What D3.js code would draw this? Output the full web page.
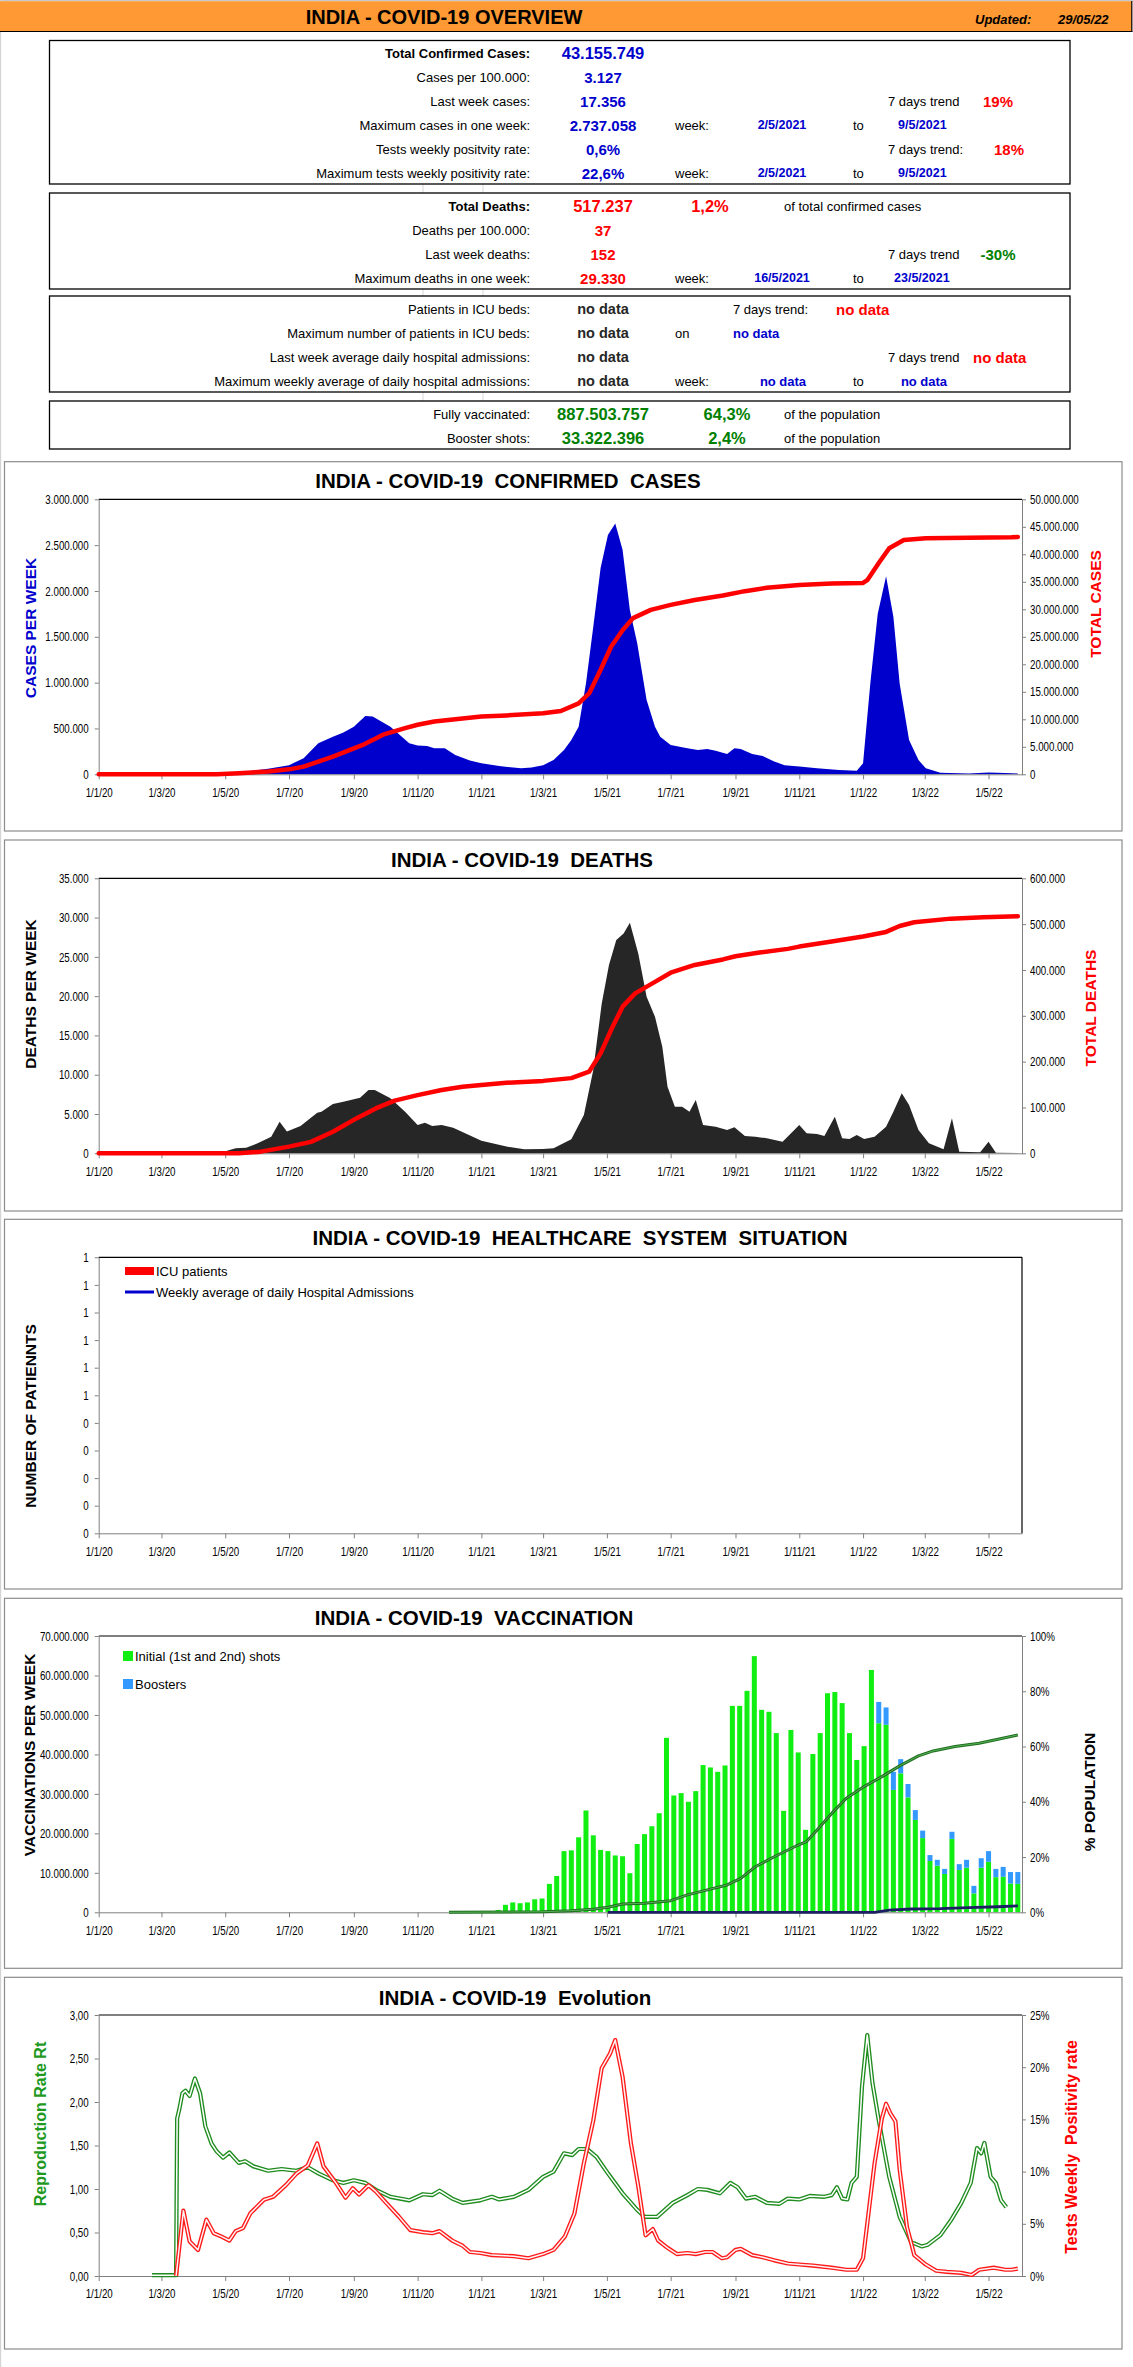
<!DOCTYPE html>
<html><head><meta charset="utf-8">
<script src="https://cdn.jsdelivr.net/npm/d3@7"></script>
<style>
body{margin:0;background:#fff;}
svg{display:block;}
</style></head><body>
<svg id="c" width="1133" height="2367"></svg>
<script>
// ---------------- DATA ----------------
const xTickDates = ["2020-01-01","2020-03-01","2020-05-01","2020-07-01","2020-09-01","2020-11-01","2021-01-01","2021-03-01","2021-05-01","2021-07-01","2021-09-01","2021-11-01","2022-01-01","2022-03-01","2022-05-01"];

const casesTicksL = [0,500000,1000000,1500000,2000000,2500000,3000000];
const casesTicksR = [0,5e6,10e6,15e6,20e6,25e6,30e6,35e6,40e6,45e6,50e6];
const deathsTicksL = [0,5000,10000,15000,20000,25000,30000,35000];
const deathsTicksR = [0,100000,200000,300000,400000,500000,600000];
const icuTicks = [0,0.1,0.2,0.3,0.4,0.5,0.6,0.7,0.8,0.9,1];
const vaxTicksL = [0,1e7,2e7,3e7,4e7,5e7,6e7,7e7];
const vaxTicksR = [0,20,40,60,80,100];
const rtTicks = [0,0.5,1,1.5,2,2.5,3];
const posTicks = [0,5,10,15,20,25];

const casesWeekly = [["2020-04-16",0],["2020-05-02",10000],["2020-05-21",30000],["2020-06-11",60000],["2020-07-01",100000],["2020-07-15",175000],["2020-07-29",340000],["2020-08-12",410000],["2020-08-22",455000],["2020-09-01",520000],["2020-09-12",636000],["2020-09-19",630000],["2020-10-06",520000],["2020-10-24",340000],["2020-11-01",313000],["2020-11-10",310000],["2020-11-17",285000],["2020-11-27",285000],["2020-12-07",210000],["2020-12-21",150000],["2021-01-01",120000],["2021-01-18",90000],["2021-02-08",65000],["2021-02-18",73000],["2021-03-01",100000],["2021-03-11",155000],["2021-03-21",265000],["2021-03-28",375000],["2021-04-04",520000],["2021-04-11",990000],["2021-04-18",1610000],["2021-04-25",2250000],["2021-05-02",2610000],["2021-05-09",2737000],["2021-05-16",2450000],["2021-05-23",1790000],["2021-05-30",1430000],["2021-06-08",810000],["2021-06-16",520000],["2021-06-21",410000],["2021-07-01",320000],["2021-07-17",285000],["2021-07-27",265000],["2021-08-05",275000],["2021-08-13",258000],["2021-08-24",222000],["2021-08-31",285000],["2021-09-06",275000],["2021-09-17",222000],["2021-09-27",200000],["2021-10-08",140000],["2021-10-18",100000],["2021-11-01",84000],["2021-11-18",65000],["2021-12-09",47000],["2021-12-26",40000],["2022-01-01",120000],["2022-01-08",1000000],["2022-01-15",1750000],["2022-01-23",2160000],["2022-01-30",1720000],["2022-02-05",990000],["2022-02-14",375000],["2022-02-23",156000],["2022-03-02",65000],["2022-03-16",18000],["2022-04-12",10000],["2022-05-01",20000],["2022-05-17",15000],["2022-05-29",10000]];

const casesTotal = [["2020-01-01",0],["2020-04-23",0],["2020-05-14",200000],["2020-06-11",500000],["2020-07-01",900000],["2020-07-15",1400000],["2020-07-29",2300000],["2020-08-12",3200000],["2020-09-09",5300000],["2020-09-29",7200000],["2020-10-20",8400000],["2020-11-01",9000000],["2020-11-17",9600000],["2020-12-07",10000000],["2021-01-01",10500000],["2021-01-25",10700000],["2021-03-01",11100000],["2021-03-18",11500000],["2021-04-04",12900000],["2021-04-14",14700000],["2021-04-25",19000000],["2021-05-05",23200000],["2021-05-16",26200000],["2021-05-26",28400000],["2021-06-12",29900000],["2021-07-01",30800000],["2021-07-24",31700000],["2021-08-20",32500000],["2021-09-10",33300000],["2021-10-01",33900000],["2021-11-01",34400000],["2021-12-02",34700000],["2022-01-01",34800000],["2022-01-05",35300000],["2022-01-16",38400000],["2022-01-26",41100000],["2022-02-09",42600000],["2022-03-02",42900000],["2022-05-23",43100000],["2022-05-29",43156000]];

const deathsWeekly = [["2020-04-03",0],["2020-04-16",85],["2020-05-02",300],["2020-05-11",640],["2020-05-21",720],["2020-06-01",1270],["2020-06-14",2120],["2020-06-22",4030],["2020-06-29",2760],["2020-07-12",3480],["2020-07-28",5170],["2020-08-01",5300],["2020-08-12",6275],["2020-08-22",6570],["2020-09-07",7080],["2020-09-15",8055],["2020-09-21",8055],["2020-10-06",7000],["2020-10-20",5300],["2020-11-01",3600],["2020-11-08",3900],["2020-11-15",3480],["2020-11-24",3600],["2020-12-05",3260],["2020-12-18",2460],["2021-01-01",1610],["2021-01-25",850],["2021-02-11",510],["2021-03-01",550],["2021-03-11",640],["2021-03-28",1780],["2021-04-09",4880],["2021-04-18",10600],["2021-04-26",19000],["2021-05-03",23950],["2021-05-10",27140],["2021-05-17",27980],["2021-05-23",29330],["2021-05-31",25440],["2021-06-08",19930],["2021-06-16",17380],["2021-06-23",13570],["2021-06-28",8480],["2021-07-05",5940],["2021-07-12",5940],["2021-07-19",5300],["2021-07-25",6780],["2021-08-01",3600],["2021-08-13",3390],["2021-08-24",2970],["2021-08-31",3300],["2021-09-10",2200],["2021-09-20",2120],["2021-10-01",1910],["2021-10-16",1480],["2021-11-01",3600],["2021-11-08",2540],["2021-11-18",2460],["2021-11-25",2200],["2021-12-05",4660],["2021-12-12",1910],["2021-12-19",1820],["2021-12-26",2330],["2022-01-02",1820],["2022-01-12",2120],["2022-01-23",3390],["2022-01-30",5300],["2022-02-07",7630],["2022-02-14",6150],["2022-02-23",2970],["2022-03-05",1270],["2022-03-19",510],["2022-03-27",4450],["2022-04-03",210],["2022-04-23",130],["2022-05-01",1480],["2022-05-08",85],["2022-05-29",40]];

const deathsTotal = [["2020-01-01",0],["2020-05-14",0],["2020-06-04",3600],["2020-07-01",14500],["2020-07-22",25000],["2020-08-12",47000],["2020-09-01",73000],["2020-09-22",98000],["2020-10-10",115000],["2020-11-01",127000],["2020-11-24",138000],["2020-12-14",145000],["2021-01-01",149000],["2021-01-25",154000],["2021-03-01",158000],["2021-03-28",164000],["2021-04-14",178000],["2021-04-25",218000],["2021-05-05",269000],["2021-05-16",320000],["2021-05-28",349000],["2021-06-16",374000],["2021-07-01",394000],["2021-07-24",411000],["2021-08-20",423000],["2021-09-01",430000],["2021-09-24",438000],["2021-10-21",446000],["2021-11-01",451000],["2021-12-02",462000],["2022-01-01",473000],["2022-01-23",483000],["2022-02-05",496000],["2022-02-19",504000],["2022-03-26",512000],["2022-04-26",515000],["2022-05-29",517000]];

const vaxWeekStart = "2021-01-17";
const vaxInitial = [0.6,1.9,2.5,2.3,2.5,3.3,3.5,7.2,9.2,15.5,15.7,19.0,25.8,19.5,15.8,15.5,14.4,14.2,9.9,17.3,19.8,21.8,25.1,44.2,29.6,30.2,28.0,30.7,37.3,36.7,35.6,37.2,52.3,52.3,56.1,64.9,51.3,50.8,45.4,25.7,46.2,40.5,20.9,40.1,45.4,55.5,55.8,53.0,45.4,38.6,42.1,61.4,47.9,47.5,31.0,35.2,29.1,23.4,18.8,13.0,11.8,9.7,18.6,10.7,11.3,4.8,11.3,12.8,8.9,9.0,7.3,7.2];
const vaxBoosters = [0,0,0,0,0,0,0,0,0,0,0,0,0,0,0,0,0,0,0,0,0,0,0,0,0,0,0,0,0,0,0,0,0,0,0,0,0,0,0,0,0,0,0,0,0,0,0,0,0,0,0,0,5.4,4.4,4.6,3.6,3.4,2.5,1.9,1.5,1.5,1.3,1.8,1.5,2.0,1.9,2.4,2.7,2.1,2.5,2.9,3.0];

const vaxPctFull = [["2020-12-01",0],["2021-03-01",0.2],["2021-03-28",0.6],["2021-04-18",1.1],["2021-05-02",1.8],["2021-05-16",3.0],["2021-06-06",3.3],["2021-07-01",4.2],["2021-07-17",6.3],["2021-08-07",8.3],["2021-08-24",9.9],["2021-09-06",12.3],["2021-09-20",16.5],["2021-10-08",20.1],["2021-10-29",24.0],["2021-11-08",25.6],["2021-11-18",29.8],["2021-12-02",35.8],["2021-12-16",41.3],["2022-01-02",45.5],["2022-01-19",49.1],["2022-02-05",53.0],["2022-02-23",56.6],["2022-03-09",58.4],["2022-03-30",60.0],["2022-04-22",61.2],["2022-05-10",62.6],["2022-05-29",64.2]];
const vaxPctBooster = [["2021-05-02",0],["2022-01-12",0],["2022-01-26",0.8],["2022-02-16",1.2],["2022-03-16",1.3],["2022-04-12",1.7],["2022-05-10",2.0],["2022-05-29",2.3]];

const rtSeries = [["2020-02-21",0.01],["2020-03-15",0.01],["2020-03-16",1.81],["2020-03-18",1.91],["2020-03-21",2.10],["2020-03-24",2.13],["2020-03-28",2.07],["2020-04-02",2.27],["2020-04-07",2.10],["2020-04-12",1.72],["2020-04-18",1.52],["2020-04-23",1.43],["2020-04-29",1.36],["2020-05-05",1.42],["2020-05-14",1.30],["2020-05-20",1.32],["2020-05-28",1.26],["2020-06-11",1.21],["2020-06-24",1.23],["2020-07-08",1.21],["2020-07-19",1.25],["2020-07-29",1.18],["2020-08-12",1.10],["2020-08-22",1.07],["2020-09-01",1.10],["2020-09-12",1.07],["2020-09-22",0.99],["2020-10-06",0.91],["2020-10-24",0.87],["2020-11-06",0.94],["2020-11-15",0.93],["2020-11-22",0.98],["2020-12-04",0.89],["2020-12-14",0.84],["2020-12-31",0.87],["2021-01-11",0.91],["2021-01-18",0.88],["2021-02-01",0.91],["2021-02-15",0.99],["2021-03-01",1.14],["2021-03-11",1.20],["2021-03-21",1.41],["2021-03-29",1.39],["2021-04-04",1.46],["2021-04-12",1.46],["2021-04-21",1.37],["2021-05-02",1.18],["2021-05-16",0.95],["2021-05-30",0.76],["2021-06-06",0.68],["2021-06-18",0.68],["2021-07-03",0.84],["2021-07-17",0.93],["2021-07-27",1.00],["2021-08-05",0.99],["2021-08-17",0.95],["2021-08-27",1.07],["2021-09-03",1.02],["2021-09-11",0.89],["2021-09-20",0.91],["2021-10-01",0.84],["2021-10-13",0.83],["2021-10-21",0.89],["2021-11-01",0.88],["2021-11-11",0.92],["2021-11-25",0.91],["2021-12-02",0.93],["2021-12-07",1.02],["2021-12-12",0.89],["2021-12-17",0.88],["2021-12-21",1.07],["2021-12-26",1.14],["2021-12-31",2.18],["2022-01-05",2.77],["2022-01-10",2.22],["2022-01-16",1.79],["2022-01-26",1.14],["2022-02-05",0.68],["2022-02-16",0.39],["2022-02-26",0.34],["2022-03-04",0.36],["2022-03-16",0.47],["2022-03-26",0.64],["2022-04-05",0.84],["2022-04-14",1.07],["2022-04-20",1.47],["2022-04-24",1.41],["2022-04-27",1.53],["2022-05-03",1.14],["2022-05-08",1.07],["2022-05-13",0.87],["2022-05-18",0.79]];

const positivity = [["2020-03-15",0],["2020-03-22",6.26],["2020-03-28",3.3],["2020-04-05",2.5],["2020-04-13",5.4],["2020-04-20",4.1],["2020-04-27",3.8],["2020-05-05",3.4],["2020-05-11",4.3],["2020-05-18",4.6],["2020-05-25",6.0],["2020-06-07",7.3],["2020-06-16",7.6],["2020-06-28",8.7],["2020-07-08",9.8],["2020-07-19",10.6],["2020-07-28",12.7],["2020-08-03",10.5],["2020-08-15",8.9],["2020-08-24",7.5],["2020-08-31",8.4],["2020-09-06",7.8],["2020-09-15",8.7],["2020-09-22",8.1],["2020-10-02",7.0],["2020-10-14",5.7],["2020-10-25",4.4],["2020-11-06",4.2],["2020-11-15",4.1],["2020-11-22",4.3],["2020-12-04",3.4],["2020-12-14",2.9],["2020-12-21",2.3],["2020-12-31",2.2],["2021-01-11",2.0],["2021-02-01",1.9],["2021-02-15",1.7],["2021-03-01",2.1],["2021-03-11",2.5],["2021-03-22",3.8],["2021-03-31",6.0],["2021-04-09",10.8],["2021-04-18",14.9],["2021-04-26",19.9],["2021-05-04",21.3],["2021-05-09",22.6],["2021-05-16",19.1],["2021-05-24",12.7],["2021-05-31",8.6],["2021-06-07",3.9],["2021-06-14",4.5],["2021-06-19",3.4],["2021-06-28",2.7],["2021-07-07",2.1],["2021-07-17",2.2],["2021-07-25",2.1],["2021-08-03",2.3],["2021-08-10",2.3],["2021-08-19",1.7],["2021-08-24",1.8],["2021-09-01",2.5],["2021-09-06",2.6],["2021-09-17",2.0],["2021-09-27",1.8],["2021-10-08",1.5],["2021-10-21",1.2],["2021-11-01",1.1],["2021-11-14",1.0],["2021-12-02",0.8],["2021-12-16",0.6],["2021-12-26",0.6],["2022-01-01",1.7],["2022-01-05",5.0],["2022-01-12",10.8],["2022-01-19",15.1],["2022-01-23",16.5],["2022-01-27",15.6],["2022-02-01",14.8],["2022-02-05",10.2],["2022-02-12",4.7],["2022-02-19",2.0],["2022-03-02",1.1],["2022-03-12",0.5],["2022-03-22",0.4],["2022-04-05",0.3],["2022-04-15",0.1],["2022-04-22",0.6],["2022-05-06",0.8],["2022-05-17",0.6],["2022-05-23",0.6],["2022-05-29",0.7]];

// ---------------- SETUP ----------------
const FONT = "'Liberation Sans', Arial, Helvetica, sans-serif";
const svg = d3.select("#c").attr("font-family", FONT);
const P = d3.utcParse("%Y-%m-%d");
const loc = d3.formatLocale({decimal: ",", thousands: ".", grouping: [3], currency: ["", ""]});
const fInt = loc.format(",.0f");
const f2 = loc.format(".2f");
const fmtDate = d => `${d.getUTCDate()}/${d.getUTCMonth()+1}/${String(d.getUTCFullYear()).slice(2)}`;
const X0 = 98.7, X1 = 1022;
const x = d3.scaleUtc().domain([P("2020-01-01"), P("2022-06-02")]).range([X0, X1]);

// page decorations
svg.append("rect").attr("x",0).attr("y",0).attr("width",1133).attr("height",1.2).attr("fill","#c8c8c8");
svg.append("rect").attr("x",0).attr("y",0).attr("width",1.2).attr("height",2367).attr("fill","#d4d4d4");
svg.append("rect").attr("x",0).attr("y",1.2).attr("width",1132).attr("height",30).attr("fill","#FF9933");
svg.append("line").attr("x1",0).attr("x2",1132.5).attr("y1",31.5).attr("y2",31.5).attr("stroke","#000").attr("stroke-width",1.2);
svg.append("line").attr("x1",1131.8).attr("x2",1131.8).attr("y1",1).attr("y2",31.5).attr("stroke","#000").attr("stroke-width",1.2);
svg.append("text").attr("x",444).attr("y",17).attr("text-anchor","middle").attr("dominant-baseline","central")
  .attr("font-size",20).attr("font-weight","bold").text("INDIA - COVID-19 OVERVIEW");
svg.append("text").attr("x",975).attr("y",19).attr("dominant-baseline","central").attr("font-size",13)
  .attr("font-weight","bold").attr("font-style","italic").text("Updated:");
svg.append("text").attr("x",1058).attr("y",19).attr("dominant-baseline","central").attr("font-size",13)
  .attr("font-weight","bold").attr("font-style","italic").text("29/05/22");

// ---------------- TABLE ----------------
const BLUE="#0000CC", RED="#FF0000", GREEN="#008000", DARK="#262626";
function box(y, h){
  svg.append("rect").attr("x",49.5).attr("y",y).attr("width",1020.5).attr("height",h)
    .attr("fill","none").attr("stroke","#000").attr("stroke-width",1.3);
}
function tx(xp, y, s, o={}){
  svg.append("text").attr("x",xp).attr("y",y).attr("dominant-baseline","central")
    .attr("text-anchor",o.a||"start").attr("font-size",o.s||13).attr("font-weight",o.b?"bold":"normal")
    .attr("fill",o.c||"#000").text(s);
}
// faint sheet grid lines between boxes
[[184,193],[289,296],[392,401]].forEach(([a,b])=>{
  [423,483].forEach(gx=>svg.append("line").attr("x1",gx).attr("x2",gx).attr("y1",a).attr("y2",b).attr("stroke","#d8d8d8"));
});
box(40.5,143.5); box(193,96); box(296,96); box(401,48);
const LX=530, VX=603;
// box 1
tx(LX,53,"Total Confirmed Cases:",{a:"end",b:1});
tx(VX,53,"43.155.749",{a:"middle",b:1,s:16.5,c:BLUE});
tx(LX,77,"Cases per 100.000:",{a:"end"});
tx(VX,77,"3.127",{a:"middle",b:1,s:15,c:BLUE});
tx(LX,101,"Last week cases:",{a:"end"});
tx(VX,101,"17.356",{a:"middle",b:1,s:15,c:BLUE});
tx(888,101,"7 days trend");
tx(998,101,"19%",{a:"middle",b:1,s:15,c:RED});
tx(LX,125,"Maximum cases in one week:",{a:"end"});
tx(VX,125,"2.737.058",{a:"middle",b:1,s:15,c:BLUE});
tx(675,125,"week:");
tx(782,125,"2/5/2021",{a:"middle",b:1,s:12.5,c:BLUE});
tx(853,125,"to");
tx(898,125,"9/5/2021",{b:1,s:12.5,c:BLUE});
tx(LX,149,"Tests weekly positvity rate:",{a:"end"});
tx(VX,149,"0,6%",{a:"middle",b:1,s:15,c:BLUE});
tx(888,149,"7 days trend:");
tx(1009,149,"18%",{a:"middle",b:1,s:15,c:RED});
tx(LX,173,"Maximum tests weekly positivity rate:",{a:"end"});
tx(VX,173,"22,6%",{a:"middle",b:1,s:15,c:BLUE});
tx(675,173,"week:");
tx(782,173,"2/5/2021",{a:"middle",b:1,s:12.5,c:BLUE});
tx(853,173,"to");
tx(898,173,"9/5/2021",{b:1,s:12.5,c:BLUE});
// box 2
tx(LX,206,"Total Deaths:",{a:"end",b:1});
tx(VX,206,"517.237",{a:"middle",b:1,s:16.5,c:RED});
tx(710,206,"1,2%",{a:"middle",b:1,s:16.5,c:RED});
tx(784,206,"of total confirmed cases");
tx(LX,230,"Deaths per 100.000:",{a:"end"});
tx(VX,230,"37",{a:"middle",b:1,s:15,c:RED});
tx(LX,254,"Last week deaths:",{a:"end"});
tx(VX,254,"152",{a:"middle",b:1,s:15,c:RED});
tx(888,254,"7 days trend");
tx(998,254,"-30%",{a:"middle",b:1,s:15,c:GREEN});
tx(LX,278,"Maximum deaths in one week:",{a:"end"});
tx(VX,278,"29.330",{a:"middle",b:1,s:15,c:RED});
tx(675,278,"week:");
tx(782,278,"16/5/2021",{a:"middle",b:1,s:12.5,c:BLUE});
tx(853,278,"to");
tx(894,278,"23/5/2021",{b:1,s:12.5,c:BLUE});
// box 3
tx(LX,309,"Patients in ICU beds:",{a:"end"});
tx(VX,309,"no data",{a:"middle",b:1,s:14.5,c:DARK});
tx(733,309,"7 days trend:");
tx(836,309,"no data",{b:1,s:15,c:RED});
tx(LX,333,"Maximum number of patients in ICU beds:",{a:"end"});
tx(VX,333,"no data",{a:"middle",b:1,s:14.5,c:DARK});
tx(675,333,"on");
tx(733,333,"no data",{b:1,s:13,c:BLUE});
tx(LX,357,"Last week average daily hospital admissions:",{a:"end"});
tx(VX,357,"no data",{a:"middle",b:1,s:14.5,c:DARK});
tx(888,357,"7 days trend");
tx(973,357,"no data",{b:1,s:15,c:RED});
tx(LX,381,"Maximum weekly average of daily hospital admissions:",{a:"end"});
tx(VX,381,"no data",{a:"middle",b:1,s:14.5,c:DARK});
tx(675,381,"week:");
tx(783,381,"no data",{a:"middle",b:1,s:13,c:BLUE});
tx(853,381,"to");
tx(924,381,"no data",{a:"middle",b:1,s:13,c:BLUE});
// box 4
tx(LX,414,"Fully vaccinated:",{a:"end"});
tx(VX,414,"887.503.757",{a:"middle",b:1,s:16.5,c:GREEN});
tx(727,414,"64,3%",{a:"middle",b:1,s:16.5,c:GREEN});
tx(784,414,"of the population");
tx(LX,438,"Booster shots:",{a:"end"});
tx(VX,438,"33.322.396",{a:"middle",b:1,s:16.5,c:GREEN});
tx(727,438,"2,4%",{a:"middle",b:1,s:16.5,c:GREEN});
tx(784,438,"of the population");

// ---------------- CHART HELPERS ----------------
function panel(y0, y1){
  svg.append("rect").attr("x",4.5).attr("y",y0).attr("width",1117.5).attr("height",y1-y0)
    .attr("fill","#fff").attr("stroke","#8c8c8c").attr("stroke-width",1.2);
}
function condense(g){
  g.attr("font-size",13).attr("font-family",FONT);
  g.select(".domain").attr("stroke","#808080");
  g.selectAll(".tick line").attr("stroke","#808080");
  g.selectAll(".tick text").attr("fill","#000").each(function(){
    const t = d3.select(this); const tx0 = +t.attr("x") || 0;
    t.attr("x",0).attr("transform",`translate(${tx0},0) scale(0.75,1)`);
  });
}
function xAxis(yb){
  const g = svg.append("g").attr("transform",`translate(0,${yb})`)
    .call(d3.axisBottom(x).tickValues(xTickDates.map(P)).tickFormat(fmtDate).tickSize(5).tickPadding(8).tickSizeOuter(0));
  condense(g);
}
function leftAxis(scale, ticks, fmt){
  const g = svg.append("g").attr("transform",`translate(${X0},0)`)
    .call(d3.axisLeft(scale).tickValues(ticks).tickFormat(fmt).tickSize(4).tickPadding(6).tickSizeOuter(0));
  condense(g);
}
function rightAxis(scale, ticks, fmt){
  const g = svg.append("g").attr("transform",`translate(${X1},0)`)
    .call(d3.axisRight(scale).tickValues(ticks).tickFormat(fmt).tickSize(4).tickPadding(4).tickSizeOuter(0));
  condense(g);
}
function topLine(yt){
  svg.append("line").attr("x1",X0).attr("x2",X1).attr("y1",yt).attr("y2",yt).attr("stroke","#000").attr("stroke-width",1.2);
}
function title(cx, cy, s){
  svg.append("text").attr("x",cx).attr("y",cy).attr("text-anchor","middle").attr("dominant-baseline","central")
    .attr("font-size",20.5).attr("font-weight","bold").style("white-space","pre").text(s);
}
function vtitle(cx, cy, s, col, size){
  svg.append("text").attr("transform",`translate(${cx},${cy}) rotate(-90)`).attr("text-anchor","middle")
    .attr("dominant-baseline","central").attr("font-size",size||15.5).attr("font-weight","bold")
    .attr("fill",col).style("white-space","pre").text(s);
}
const px = d => x(P(d[0]));

// ---------------- CHART 1: CASES ----------------
{
  const T=499.3, B=774.3;
  panel(461.7, 831);
  const yL = d3.scaleLinear().domain([0,3000000]).range([B,T]);
  const yR = d3.scaleLinear().domain([0,50000000]).range([B,T]);
  svg.append("path").datum(casesWeekly).attr("fill","#0000CC")
    .attr("d", d3.area().x(px).y0(yL(0)).y1(d=>yL(d[1])));
  topLine(T);
  leftAxis(yL, casesTicksL, fInt);
  rightAxis(yR, casesTicksR, fInt);
  xAxis(B);
  svg.append("path").datum(casesTotal).attr("fill","none").attr("stroke","#FF0000").attr("stroke-width",4.5)
    .attr("stroke-linejoin","round").attr("stroke-linecap","round")
    .attr("d", d3.line().x(px).y(d=>yR(d[1])));
  title(508, 480, "INDIA - COVID-19  CONFIRMED  CASES");
  vtitle(30.4, 628, "CASES PER WEEK", "#0000CC");
  vtitle(1095.6, 604, "TOTAL CASES", "#FF0000");
}

// ---------------- CHART 2: DEATHS ----------------
{
  const T=878.3, B=1153.3;
  panel(840, 1211);
  const yL = d3.scaleLinear().domain([0,35000]).range([B,T]);
  const yR = d3.scaleLinear().domain([0,600000]).range([B,T]);
  svg.append("path").datum(deathsWeekly).attr("fill","#262626")
    .attr("d", d3.area().x(px).y0(yL(0)).y1(d=>yL(d[1])));
  topLine(T);
  leftAxis(yL, deathsTicksL, fInt);
  rightAxis(yR, deathsTicksR, fInt);
  xAxis(B);
  svg.append("path").datum(deathsTotal).attr("fill","none").attr("stroke","#FF0000").attr("stroke-width",4.5)
    .attr("stroke-linejoin","round").attr("stroke-linecap","round")
    .attr("d", d3.line().x(px).y(d=>yR(d[1])));
  title(522, 859, "INDIA - COVID-19  DEATHS");
  vtitle(30.4, 994, "DEATHS PER WEEK", "#000");
  vtitle(1090.6, 1008, "TOTAL DEATHS", "#FF0000");
}

// ---------------- CHART 3: HEALTHCARE ----------------
{
  const T=1257.3, B=1533.3;
  panel(1219.3, 1589);
  const yL = d3.scaleLinear().domain([0,1]).range([B,T]);
  topLine(T);
  svg.append("line").attr("x1",X1).attr("x2",X1).attr("y1",T).attr("y2",B).attr("stroke","#000").attr("stroke-width",1.2);
  leftAxis(yL, icuTicks, d=>String(Math.round(d)));
  xAxis(B);
  svg.append("rect").attr("x",125).attr("y",1267).attr("width",29).attr("height",8).attr("fill","#FF0000");
  tx(156,1271,"ICU patients");
  svg.append("line").attr("x1",125).attr("x2",154).attr("y1",1292).attr("y2",1292).attr("stroke","#0000CC").attr("stroke-width",3);
  tx(156,1292,"Weekly average of daily Hospital Admissions");
  title(580, 1237, "INDIA - COVID-19  HEALTHCARE  SYSTEM  SITUATION");
  vtitle(30.4, 1416, "NUMBER OF PATIENNTS", "#000");
}

// ---------------- CHART 4: VACCINATION ----------------
{
  const T=1636, B=1912.3;
  panel(1598.3, 1968.3);
  const yL = d3.scaleLinear().domain([0,70000000]).range([B,T]);
  const yR = d3.scaleLinear().domain([0,100]).range([B,T]);
  const start = P(vaxWeekStart);
  const bars = vaxInitial.map((v,i)=>({d: d3.utcDay.offset(start, 7*i), a: v*1e6, b: vaxBoosters[i]*1e6}));
  const bw = 5;
  svg.append("g").selectAll("rect").data(bars).join("rect")
    .attr("x", d=>x(d.d)-bw/2).attr("width",bw)
    .attr("y", d=>yL(d.a)).attr("height", d=>yL(0)-yL(d.a)).attr("fill","#11EE11");
  svg.append("g").selectAll("rect").data(bars.filter(d=>d.b>0)).join("rect")
    .attr("x", d=>x(d.d)-bw/2).attr("width",bw)
    .attr("y", d=>yL(d.a+d.b)).attr("height", d=>yL(d.a)-yL(d.a+d.b)).attr("fill","#3399FF");
  topLine(T);
  leftAxis(yL, vaxTicksL, fInt);
  rightAxis(yR, vaxTicksR, d=>d+"%");
  xAxis(B);
  const ln = d3.line().x(px).y(d=>yR(d[1]));
  svg.append("path").datum(vaxPctFull).attr("fill","none").attr("stroke","#1E6E1E").attr("stroke-width",3)
    .attr("stroke-linejoin","round").attr("d", ln);
  svg.append("path").datum(vaxPctFull).attr("fill","none").attr("stroke","#5CB85C").attr("stroke-width",0.9)
    .attr("stroke-linejoin","round").attr("d", ln);
  svg.append("path").datum(vaxPctBooster).attr("fill","none").attr("stroke","#1C1F64").attr("stroke-width",2.8)
    .attr("stroke-linejoin","round").attr("d", ln);
  svg.append("rect").attr("x",123).attr("y",1651).attr("width",10).attr("height",10).attr("fill","#11EE11");
  tx(135,1656,"Initial (1st and 2nd) shots");
  svg.append("rect").attr("x",123).attr("y",1679).attr("width",10).attr("height",10).attr("fill","#3399FF");
  tx(135,1684,"Boosters");
  title(474, 1617, "INDIA - COVID-19  VACCINATION");
  vtitle(29, 1755, "VACCINATIONS PER WEEK", "#000");
  vtitle(1089, 1792, "% POPULATION", "#000");
}

// ---------------- CHART 5: EVOLUTION ----------------
{
  const T=2015, B=2276;
  panel(1977.3, 2349);
  const yL = d3.scaleLinear().domain([0,3]).range([B,T]);
  const yR = d3.scaleLinear().domain([0,25]).range([B,T]);
  topLine(T);
  leftAxis(yL, rtTicks, f2);
  rightAxis(yR, posTicks, d=>d+"%");
  xAxis(B);
  const lL = d3.line().x(px).y(d=>yL(d[1]));
  const lR = d3.line().x(px).y(d=>yR(d[1]));
  svg.append("path").datum(rtSeries).attr("fill","none").attr("stroke","#1E8C1E").attr("stroke-width",4.2)
    .attr("stroke-linejoin","round").attr("d", lL);
  svg.append("path").datum(rtSeries).attr("fill","none").attr("stroke","#ffffff").attr("stroke-width",1.5)
    .attr("stroke-linejoin","round").attr("d", lL);
  svg.append("path").datum(positivity).attr("fill","none").attr("stroke","#FF1A1A").attr("stroke-width",4.2)
    .attr("stroke-linejoin","round").attr("d", lR);
  svg.append("path").datum(positivity).attr("fill","none").attr("stroke","#fff2f2").attr("stroke-width",1.5)
    .attr("stroke-linejoin","round").attr("d", lR);
  title(515, 1997, "INDIA - COVID-19  Evolution");
  vtitle(40, 2124, "Reproduction Rate Rt", "#1F9A1F", 16);
  vtitle(1071, 2147, "Tests Weekly  Positivity rate", "#FF0000", 16);
}
</script>
</body></html>
